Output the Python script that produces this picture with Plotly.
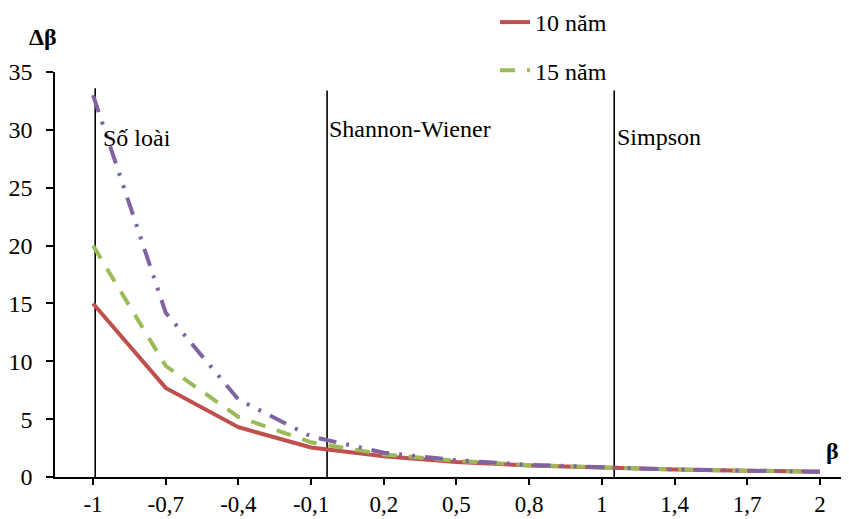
import plotly.graph_objects as go

categories = ["-1", "-0,7", "-0,4", "-0,1", "0,2", "0,5", "0,8", "1", "1,4", "1,7", "2"]
y_10 = [15.0, 7.7, 4.3, 2.55, 1.8, 1.3, 1.0, 0.82, 0.65, 0.55, 0.45]
y_15 = [20.0, 9.6, 5.2, 3.0, 1.95, 1.4, 1.02, 0.82, 0.65, 0.55, 0.45]
y_20 = [33.0, 14.2, 6.7, 3.5, 2.1, 1.45, 1.05, 0.85, 0.65, 0.55, 0.45]
series_names = ["10 năm", "15 năm", "20 năm"]
y_ticks = [0, 5, 10, 15, 20, 25, 30, 35]

vline_x = [0.03, 3.22, 7.17]
vline_top = [33.6, 33.4, 33.4]
vline_labels = ["Số loài", "Shannon-Wiener", "Simpson"]
label_x = [0.11, 3.22, 7.18]
label_y = [29.3, 30.1, 29.4]

idx = list(range(len(categories)))
FONT = "Times New Roman, Liberation Serif, serif"
FS = 24

# page has an 8px body margin; plot area in page pixels: x 55..849, y 72..477
OFF = 8
PL, PR, PT, PB = 55, 849, 72, 477
PW, PH = PR - PL, PB - PT

def px(x):
    return (x - PL) / PW

def py(y):
    return (PB - y) / PH

fig = go.Figure()
fig.add_trace(go.Scatter(x=idx, y=y_10, name=series_names[0], mode="lines",
                         line=dict(color="#C0504D", width=4), legendgroup="a"))
fig.add_trace(go.Scatter(x=idx, y=y_15, name=series_names[1], mode="lines",
                         line=dict(color="#9BBB59", width=4, dash="15px,12px"), legendgroup="b"))
fig.add_trace(go.Scatter(x=idx, y=y_20, name=series_names[2], mode="lines",
                         line=dict(color="#8064A2", width=4, dash="18px,10px,3px,10px,3px,10px"),
                         showlegend=False, legendgroup="c"))

for xv, top in zip(vline_x, vline_top):
    fig.add_shape(type="line", x0=xv, x1=xv, y0=0, y1=top, xref="x", yref="y",
                  line=dict(color="black", width=1.6), layer="below")

for t, xv, yv in zip(vline_labels, label_x, label_y):
    fig.add_annotation(x=xv, y=yv, text=t, showarrow=False, xanchor="left", yanchor="middle",
                       font=dict(family=FONT, size=FS, color="black"))

fig.add_annotation(x=px(43), y=py(37), xref="paper", yref="paper", text="<b>Δβ</b>",
                   showarrow=False, xanchor="center", yanchor="middle",
                   font=dict(family=FONT, size=FS, color="black"))
fig.add_annotation(x=px(832), y=py(451), xref="paper", yref="paper",
                   text="<b>β</b>", showarrow=False, xanchor="center", yanchor="middle",
                   font=dict(family=FONT, size=FS, color="black"))

fig.update_layout(
    width=849 - OFF, height=519 - OFF,
    margin=dict(l=PL - OFF, r=0, t=PT - OFF, b=(519 - OFF) - (PB - OFF), autoexpand=False),
    paper_bgcolor="white", plot_bgcolor="white",
    font=dict(family=FONT, size=FS, color="black"),
    showlegend=True,
    legend=dict(x=px(495), y=py(0), xanchor="left", yanchor="top",
                bgcolor="rgba(0,0,0,0)", font=dict(family=FONT, size=FS),
                traceorder="grouped", tracegroupgap=14),
    xaxis=dict(range=[-0.523, 10.4], tickmode="array", tickvals=idx, ticktext=categories,
               showgrid=False, zeroline=False, showline=True, linecolor="black", linewidth=1.5,
               ticks="outside", ticklen=6, tickwidth=1.5, tickcolor="black", automargin=False,
               tickfont=dict(family=FONT, size=23), ticklabelstandoff=0),
    yaxis=dict(range=[0, 35], tickmode="array", tickvals=y_ticks,
               showgrid=False, zeroline=False, showline=True, linecolor="black", linewidth=1.5,
               ticks="outside", ticklen=7, tickwidth=1.5, tickcolor="black", automargin=False,
               tickfont=dict(family=FONT, size=FS), ticklabelstandoff=9),
)

fig.write_html("out.html")
